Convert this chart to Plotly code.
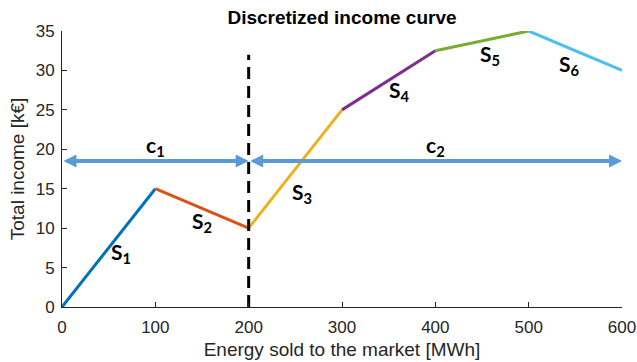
import plotly.graph_objects as go

# Data
energy = [0, 100, 200, 300, 400, 500, 600]
income = [0, 15, 10, 25, 32.5, 35, 30]
seg_colors = ["#0072BD", "#D95319", "#EDB120", "#7E2F8E", "#77AC30", "#4DBEEE"]
seg_labels = ["S<sub>1</sub>", "S<sub>2</sub>", "S<sub>3</sub>", "S<sub>4</sub>", "S<sub>5</sub>", "S<sub>6</sub>"]
seg_label_x = [63, 150, 257, 362, 459, 544]
seg_label_y = [6.8, 10.8, 14.4, 27.4, 32.0, 30.7]

split_x = 200
split_line_y = [0, 32]
arrow_y = 18.5
range_labels = ["c<sub>1</sub>", "c<sub>2</sub>"]
range_bounds = [(0, 200), (200, 600)]
range_label_y = 20.4

fig = go.Figure()

for i in range(len(energy) - 1):
    fig.add_trace(go.Scatter(
        x=energy[i:i + 2], y=income[i:i + 2], mode="lines",
        line=dict(color=seg_colors[i], width=3), showlegend=False,
        hoverinfo="skip", cliponaxis=False))

fig.add_trace(go.Scatter(
    x=[split_x, split_x], y=split_line_y, mode="lines",
    line=dict(color="black", width=3, dash="12px,7px"), showlegend=False,
    hoverinfo="skip", cliponaxis=False))

annotations = []
for lx, ly, t in zip(seg_label_x, seg_label_y, seg_labels):
    annotations.append(dict(x=lx, y=ly, text=t, showarrow=False,
                            font=dict(family="Lato", size=21, color="black", weight="bold")))

arrow_color = "#5B9BD5"
for (a, b), t in zip(range_bounds, range_labels):
    annotations.append(dict(x=b, y=arrow_y, ax=a, ay=arrow_y, xref="x", yref="y",
                            axref="x", ayref="y", text="", showarrow=True,
                            arrowhead=2, arrowsize=0.65, arrowwidth=4,
                            startarrowhead=2, startarrowsize=0.65,
                            arrowside="end+start", arrowcolor=arrow_color,
                            standoff=0, startstandoff=0))
    annotations.append(dict(x=(a + b) / 2, y=range_label_y, text=t, showarrow=False,
                            font=dict(family="Lato", size=21, color="black", weight="bold")))

fig.update_layout(
    width=637, height=362,
    margin=dict(l=62, r=15, t=31, b=55, autoexpand=False),
    paper_bgcolor="white", plot_bgcolor="white",
    title=dict(text="<b>Discretized income curve</b>", x=342 / 637, xanchor="center",
               y=1 - 17 / 362, yanchor="middle",
               font=dict(family="Liberation Sans", size=19, color="black")),
    annotations=annotations,
    font=dict(family="Liberation Sans", color="#262626"),
)
fig.update_xaxes(range=[0, 600], tickvals=[0, 100, 200, 300, 400, 500, 600],
                 showgrid=False, zeroline=False, showline=True, linecolor="#262626",
                 linewidth=1, ticks="inside", ticklen=5, tickcolor="#262626",
                 automargin=False, ticklabelstandoff=5,
                 tickfont=dict(size=17, color="#262626"),
                 title=dict(text="Energy sold to the market [MWh]", standoff=6,
                            font=dict(size=19, color="#262626")))
fig.update_yaxes(range=[0, 35], tickvals=[0, 5, 10, 15, 20, 25, 30, 35],
                 showgrid=False, zeroline=False, showline=True, linecolor="#262626",
                 linewidth=1, ticks="inside", ticklen=5, tickcolor="#262626",
                 automargin=False, ticklabelstandoff=3,
                 tickfont=dict(size=17, color="#262626"),
                 title=dict(text="Total income [k€]", standoff=6,
                            font=dict(size=19, color="#262626")))

fig.write_html("out.html", config={"displayModeBar": False},
               post_script="document.body.style.margin='0';document.body.style.overflow='hidden';")
